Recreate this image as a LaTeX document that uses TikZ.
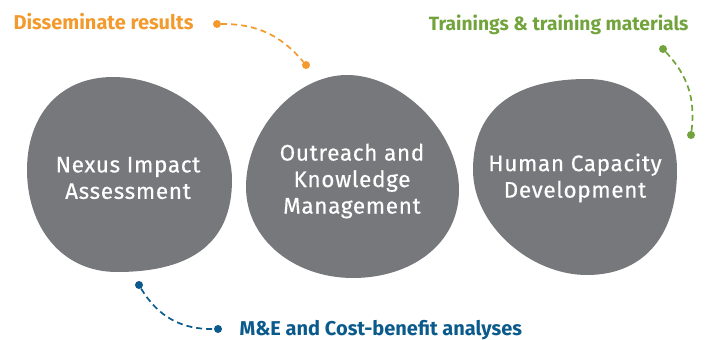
\documentclass[tikz,border=0pt]{standalone}
\usepackage{fontspec}
\setmainfont{Fira Sans}
\usepackage{xcolor}
\usetikzlibrary{calc,positioning}
\definecolor{blobgray}{HTML}{77787B}
\definecolor{dissorange}{HTML}{F39A2E}
\definecolor{traingreen}{HTML}{72A33C}
\definecolor{mebblue}{HTML}{0B5A8C}
\tikzset{
	blobtext/.style={text=white,align=center,font=\fontsize{22.5}{26.5}\selectfont\addfontfeatures{LetterSpace=3,FakeBold=0.4}},
	tagtext/.style={font=\bfseries\fontsize{20}{23}\selectfont},
	tagdot/.style={circle,fill,inner sep=0pt,minimum size=8pt},
	tagline/.style={line width=1.7pt,dash pattern=on 6pt off 4pt}
}

\begin{document}
\begin{tikzpicture}[x=1pt,y=-1pt]
	\useasboundingbox (0,0) rectangle (705,340);
	% blobs
	\fill[blobgray] (113,77) .. controls (170,77) and (232,120) .. (232,180)
		.. controls (232,240) and (195,272) .. (117,272)
		.. controls (60,272) and (27,225) .. (27,170)
		.. controls (27,115) and (60,77) .. cycle;
	\fill[blobgray] (347,75) .. controls (400,75) and (459,130) .. (459,190)
		.. controls (459,245) and (410,278) .. (353,278)
		.. controls (295,278) and (246,240) .. (246,187)
		.. controls (246,130) and (295,75) .. cycle;
	\fill[blobgray] (587,79) .. controls (640,79) and (677,120) .. (677,170)
		.. controls (677,240) and (640,275) .. (587,275)
		.. controls (530,275) and (473,225) .. (473,170)
		.. controls (473,105) and (520,79) .. cycle;
	\node[blobtext] (nia) at (128,178) {Nexus Impact\\Assessment};
	\node[blobtext] (okm) at (352,181) {Outreach and\\Knowledge\\Management};
	\node[blobtext] (hcd) at (575,178) {Human Capacity\\Development};
	% tags
	\node[tagtext,text=dissorange,anchor=west] (diss) at (10,22) {Disseminate results};
	\node[tagtext,text=traingreen,anchor=east,font=\bfseries\fontsize{19.2}{23}\selectfont] (train) at (692,25) {Trainings \& training materials};
	\node[tagtext,text=mebblue,anchor=west] (meb) at (236,330) {M\&E and Cost-benefit analyses};
	\node[tagdot,dissorange] (d1) at (217,24) {};
	\node[tagdot,dissorange] (d2) at (306,65) {};
	\node[tagdot,traingreen] (t1) at (663,49) {};
	\node[tagdot,traingreen] (t2) at (691,135) {};
	\node[tagdot,mebblue] (m1) at (139,285) {};
	\node[tagdot,mebblue] (m2) at (218,329) {};
	\draw[tagline,dissorange] (d1) to[bend left=25] (d2);
	\draw[tagline,traingreen] (t1) to[bend left=25] (t2);
	\draw[tagline,mebblue] (m1) to[bend right=30] (m2);
\end{tikzpicture}
\end{document}
